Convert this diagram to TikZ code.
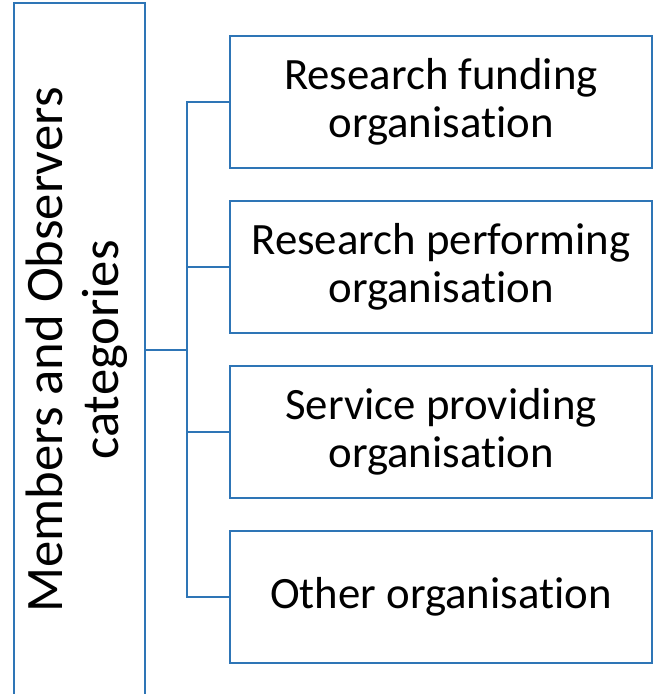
\documentclass[tikz,border=0pt]{standalone}
\usepackage{fontspec}
\setmainfont{Carlito}[Ligatures={NoCommon,NoContextual}]
\usetikzlibrary{positioning}
\definecolor{lineblue}{HTML}{2E75B6}

\begin{document}
\begin{tikzpicture}[x=0.75pt, y=-0.75pt, node distance=23.25pt,
    box/.style={draw=lineblue, line width=1.5pt, rectangle, align=center,
        font=\fontsize{33.6}{36}\selectfont, inner sep=0pt},
    org/.style={box, minimum width=316.5pt, minimum height=99pt},
    link/.style={draw=lineblue, line width=1.5pt}]
    \useasboundingbox (0,0) rectangle (654,694);
    \node[box, minimum width=98.25pt, minimum height=520.5pt] (cat) at (79.5,350)
        {\rotatebox{90}{\fontsize{39.5}{42}\selectfont
         \begin{tabular}{@{}c@{}}Members and Observers\\categories\end{tabular}}};
    \node[org] (fund) at (441,102) {Research funding\\organisation};
    \node[org, below=of fund] (perf) {Research performing\\organisation};
    \node[org, below=of perf] (serv) {Service providing\\organisation};
    \node[org, below=of serv] (other) {Other organisation};
    \coordinate (hub) at (187,350);
    \draw[link] (cat.east) -- (hub);
    \draw[link] (hub) |- (fund.west);
    \draw[link] (hub) |- (perf.west);
    \draw[link] (hub) |- (serv.west);
    \draw[link] (hub) |- (other.west);
\end{tikzpicture}
\end{document}
